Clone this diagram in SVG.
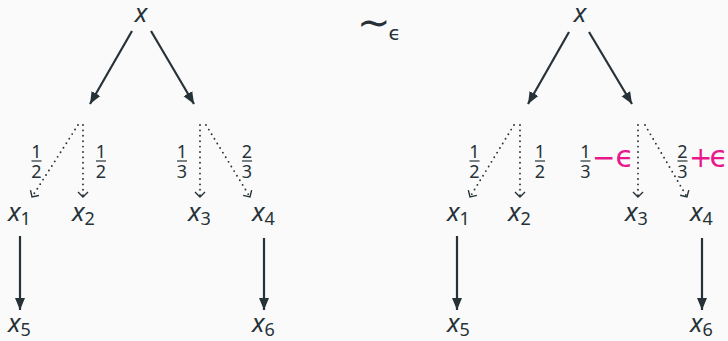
<svg xmlns="http://www.w3.org/2000/svg" width="728" height="341" viewBox="0 0 728 341">
<defs>
<style>
.v{font-family:"Noto Sans","Open Sans",sans-serif;font-style:italic;font-size:26px;fill:#263238}
.s{font-family:"Noto Sans","Open Sans",sans-serif;font-style:normal;font-size:18px}
.f{font-family:"Noto Sans","Open Sans",sans-serif;font-size:18px;fill:#263238;text-anchor:middle}
.bar{stroke:#263238;stroke-width:1.2}
.sol{stroke:#263238;stroke-width:2.2;fill:none;marker-end:url(#ah)}
.dot{stroke:#263238;stroke-width:1.9;stroke-linecap:round;stroke-dasharray:0 5.4;fill:none;marker-end:url(#ch)}
.pk{font-family:"DejaVu Sans",sans-serif;font-size:28px;fill:#e8178a}
.ep{font-size:30px}
.m{font-family:"DejaVu Sans",sans-serif;fill:#263238}
</style>
<marker id="ah" markerUnits="userSpaceOnUse" viewBox="-12 -6 13 12" refX="0" refY="0" markerWidth="13" markerHeight="12" orient="auto">
<path d="M0,0 L-12,-5 L-12,5 Z" fill="#263238"/>
</marker>
<marker id="ch" markerUnits="userSpaceOnUse" viewBox="-7 -7 8 14" refX="0" refY="0" markerWidth="8" markerHeight="14" orient="auto">
<path d="M-5,-5 L0,0 L-5,5" fill="none" stroke="#263238" stroke-width="1.4"/>
</marker>
</defs>
<rect width="728" height="341" fill="#fafafa"/>

<g id="connectors">
<line class="sol" x1="132" y1="31" x2="90" y2="104"/>
<line class="sol" x1="151" y1="31" x2="194" y2="104"/>
<line class="sol" x1="20" y1="236" x2="20" y2="310"/>
<line class="sol" x1="264" y1="238" x2="264" y2="310"/>
<line class="sol" x1="569" y1="32" x2="528" y2="104"/>
<line class="sol" x1="589" y1="32" x2="632" y2="104"/>
<line class="sol" x1="457" y1="236" x2="457" y2="310"/>
<line class="sol" x1="702" y1="238" x2="702" y2="310"/>
<line class="dot" x1="78" y1="125" x2="32" y2="197"/>
<line class="dot" x1="83" y1="125" x2="83" y2="197"/>
<line class="dot" x1="200" y1="125" x2="200" y2="197"/>
<line class="dot" x1="206" y1="125" x2="250" y2="197"/>
<line class="dot" x1="514" y1="125" x2="470" y2="197"/>
<line class="dot" x1="520" y1="125" x2="520" y2="197"/>
<line class="dot" x1="638" y1="125" x2="638" y2="197"/>
<line class="dot" x1="645" y1="125" x2="687" y2="197"/>
</g>

<g id="labels-left">
<text class="f" x="36.5" y="158">1</text><line class="bar" x1="31.5" y1="161" x2="41.5" y2="161"/><text class="f" x="36.5" y="178">2</text>
<text class="f" x="101" y="158">1</text><line class="bar" x1="96" y1="161" x2="106" y2="161"/><text class="f" x="101" y="178">2</text>
<text class="f" x="182" y="158">1</text><line class="bar" x1="177" y1="161" x2="187" y2="161"/><text class="f" x="182" y="178">3</text>
<text class="f" x="247" y="158">2</text><line class="bar" x1="242" y1="161" x2="252" y2="161"/><text class="f" x="247" y="178">3</text>
</g>
<g id="labels-right">
<text class="f" x="474.5" y="158">1</text><line class="bar" x1="469.5" y1="161" x2="479.5" y2="161"/><text class="f" x="474.5" y="178">2</text>
<text class="f" x="540" y="158">1</text><line class="bar" x1="535" y1="161" x2="545" y2="161"/><text class="f" x="540" y="178">2</text>
<text class="f" x="585.5" y="158">1</text><line class="bar" x1="580.5" y1="161" x2="590.5" y2="161"/><text class="f" x="585.5" y="178">3</text>
<text class="pk" x="592" y="167">−<tspan class="ep" dx="0">ϵ</tspan></text>
<text class="f" x="682.5" y="158">2</text><line class="bar" x1="677.5" y1="161" x2="687.5" y2="161"/><text class="f" x="682.5" y="178">3</text>
<text class="pk" x="689" y="167">+<tspan class="ep" dx="-3">ϵ</tspan></text>
</g>

<g id="rel">
<text class="m" x="357" y="36" font-size="40">∼<tspan font-size="20" dx="-2" dy="4">ϵ</tspan></text>
</g>

<g id="n-x-left"><text class="v" x="141" y="22" text-anchor="middle">x</text></g>
<g id="n-x1-left"><text class="v" x="8" y="221">x<tspan class="s" dy="4">1</tspan></text></g>
<g id="n-x2-left"><text class="v" x="72" y="221">x<tspan class="s" dy="4">2</tspan></text></g>
<g id="n-x3-left"><text class="v" x="188" y="221">x<tspan class="s" dy="4">3</tspan></text></g>
<g id="n-x4-left"><text class="v" x="252" y="221">x<tspan class="s" dy="4">4</tspan></text></g>
<g id="n-x5-left"><text class="v" x="8" y="332">x<tspan class="s" dy="4">5</tspan></text></g>
<g id="n-x6-left"><text class="v" x="252" y="332">x<tspan class="s" dy="4">6</tspan></text></g>

<g id="n-x-right"><text class="v" x="580" y="22" text-anchor="middle">x</text></g>
<g id="n-x1-right"><text class="v" x="447" y="221">x<tspan class="s" dy="4">1</tspan></text></g>
<g id="n-x2-right"><text class="v" x="508" y="221">x<tspan class="s" dy="4">2</tspan></text></g>
<g id="n-x3-right"><text class="v" x="625" y="221">x<tspan class="s" dy="4">3</tspan></text></g>
<g id="n-x4-right"><text class="v" x="690" y="221">x<tspan class="s" dy="4">4</tspan></text></g>
<g id="n-x5-right"><text class="v" x="447" y="332">x<tspan class="s" dy="4">5</tspan></text></g>
<g id="n-x6-right"><text class="v" x="690" y="332">x<tspan class="s" dy="4">6</tspan></text></g>
</svg>
